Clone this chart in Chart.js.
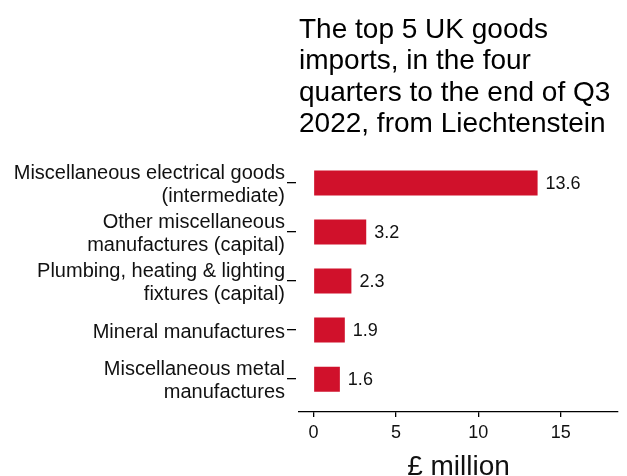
<!DOCTYPE html>
<html>
<head>
<meta charset="utf-8">
<script src="https://cdn.jsdelivr.net/npm/chart.js@4.4.0/dist/chart.umd.min.js"></script>
<style>
    body { margin: 0; background: #fff; }
    #wrap { width: 627px; height: 476px; }
</style>
</head>
<body>
<div id="wrap"><canvas id="importsChart"></canvas></div>
<script>
const titleLines = [
    "The top 5 UK goods",
    "imports, in the four",
    "quarters to the end of Q3",
    "2022, from Liechtenstein",
];

const categories = [
    ["Miscellaneous electrical goods", "(intermediate)"],
    ["Other miscellaneous", "manufactures (capital)"],
    ["Plumbing, heating & lighting", "fixtures (capital)"],
    ["Mineral manufactures"],
    ["Miscellaneous metal", "manufactures"],
];

const importValues = [13.6, 3.2, 2.3, 1.9, 1.6];

const xTickValues = [0, 5, 10, 15];

const barColor = "#d0112b";
const textColor = "#111111";

Chart.defaults.font.family = "'Liberation Sans', Arial, sans-serif";
Chart.defaults.color = textColor;

// value labels at the end of each bar
const valueLabels = {
    id: "valueLabels",
    afterDatasetsDraw(chart) {
        const ctx = chart.ctx;
        const meta = chart.getDatasetMeta(0);
        ctx.save();
        ctx.font = "18px 'Liberation Sans', Arial, sans-serif";
        ctx.fillStyle = textColor;
        ctx.textAlign = "left";
        ctx.textBaseline = "middle";
        meta.data.forEach(function (bar, i) {
            ctx.fillText(importValues[i].toFixed(1), bar.x + 8, bar.y + 1);
        });
        ctx.restore();
    },
};

new Chart(document.getElementById("importsChart").getContext("2d"), {
    type: "bar",
    data: {
        datasets: [
            {
                data: importValues.map(function (v, i) {
                    return { x: v, y: i };
                }),
                backgroundColor: barColor,
                borderWidth: 0,
                barPercentage: 0.51,
                categoryPercentage: 1,
            },
        ],
    },
    options: {
        indexAxis: "y",
        responsive: true,
        maintainAspectRatio: false,
        animation: false,
        layout: {
            padding: { left: 0, right: 9, top: 0, bottom: 0 },
        },
        scales: {
            x: {
                type: "linear",
                min: -0.88,
                max: 18.48,
                afterBuildTicks: function (scale) {
                    scale.ticks = xTickValues.map(function (v) {
                        return { value: v };
                    });
                },
                grid: {
                    drawOnChartArea: false,
                    drawTicks: true,
                    tickLength: 5,
                    color: "#000",
                    lineWidth: 1.3,
                },
                border: { display: true, color: "#000", width: 1.3 },
                ticks: {
                    padding: 5.2,
                    color: textColor,
                    font: { size: 18 },
                },
                title: {
                    display: true,
                    text: "£ million",
                    color: textColor,
                    font: { size: 28, lineHeight: 0.65 },
                    padding: { top: 8.8, bottom: 0 },
                },
            },
            y: {
                type: "linear",
                reverse: true,
                offset: false,
                min: -0.6,
                max: 4.67,
                afterBuildTicks: function (scale) {
                    scale.ticks = categories.map(function (c, i) {
                        return { value: i };
                    });
                },
                afterFit: function (scale) {
                    scale.width = 299;
                },
                grid: {
                    offset: false,
                    drawOnChartArea: false,
                    drawTicks: true,
                    tickLength: 12,
                    tickBorderDash: [9, 3],
                    color: "#000",
                    lineWidth: 1.3,
                },
                border: { display: false },
                ticks: {
                    padding: 2,
                    labelOffset: 2,
                    color: textColor,
                    font: { size: 20, lineHeight: 1.17 },
                    callback: function (value) {
                        return categories[value];
                    },
                },
            },
        },
        plugins: {
            legend: { display: false },
            tooltip: { enabled: false },
            title: {
                display: true,
                text: titleLines,
                align: "start",
                fullSize: false,
                color: "#000",
                font: { size: 28, weight: "normal", lineHeight: 1.12 },
                padding: { top: 14.6, bottom: 13.5 },
            },
        },
    },
    plugins: [valueLabels],
});
</script>
</body>
</html>
